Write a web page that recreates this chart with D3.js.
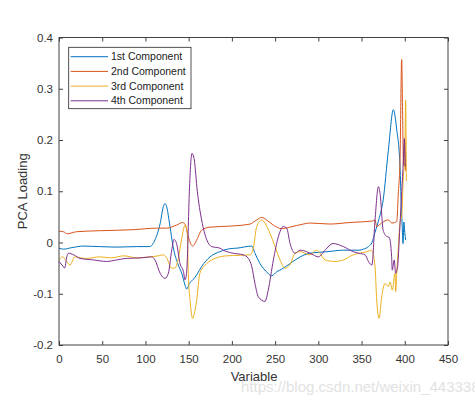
<!DOCTYPE html>
<html lang="en">
<head>
    <meta charset="UTF-8">
    <meta name="viewport" content="width=device-width, initial-scale=1.0">
    <script src="https://d3js.org/d3.v7.min.js"></script>
    <title>PCA Loading</title>
    <style>
        html,
        body {
            margin: 0px;
            padding: 0px;
            background-color: #ffffff;
            font-family: "Liberation Sans", Arial, sans-serif;
        }
    </style>
</head>
<body>
    <div id="chart"></div>
    <script>

        // loadings: [variable, loading]
        let comp1 = [
            [0, -0.011], [5, -0.013], [15, -0.010], [28, -0.007], [47, -0.008], [67, -0.009],
            [90, -0.008], [105, -0.008], [111, 0.005], [117, 0.037], [120.7, 0.070], [122.6, 0.076],
            [124.5, 0.070], [128.4, 0.031], [132, -0.008], [138, -0.044], [142, -0.060], [145.8, -0.083],
            [147.7, -0.091], [150.8, -0.080], [155.4, -0.072], [159.3, -0.063], [165, -0.047],
            [174.7, -0.028], [186, -0.018], [198, -0.012], [206, -0.011], [223, -0.007], [226.7, -0.021],
            [232.5, -0.041], [240, -0.057], [246, -0.065], [252, -0.057], [257.6, -0.052], [267.3, -0.041],
            [279, -0.028], [290, -0.021], [310, -0.018], [329, -0.015], [347, -0.015], [352, -0.013],
            [358, -0.008], [362, 0.000], [365.6, 0.020], [370, 0.045], [375, 0.083], [381, 0.180],
            [386.8, 0.259], [390.7, 0.220], [394.5, 0.148], [396, 0.070], [396.8, 0.040], [398, -0.002],
            [399, 0.040], [400, 0.020], [401, 0.005]
        ];
        let comp2 = [
            [0, 0.022], [5, 0.021], [10, 0.017], [13, 0.018], [20, 0.021], [47, 0.023], [86, 0.025],
            [113, 0.028], [124.5, 0.028], [136, 0.034], [143, 0.039], [146, 0.035], [149.6, 0.011],
            [154.6, -0.007], [159.3, 0.005], [165, 0.024], [174.7, 0.030], [198, 0.032], [221, 0.036],
            [228.7, 0.044], [234.5, 0.049], [240, 0.044], [248, 0.034], [257.6, 0.027], [267, 0.030],
            [282.6, 0.036], [290, 0.038], [313.5, 0.036], [336.6, 0.039], [347, 0.040], [363, 0.042],
            [365.6, 0.044], [367.5, 0.031], [373, 0.038], [381, 0.044], [385, 0.038], [390.7, 0.041],
            [392.5, 0.096], [394.5, 0.160], [396.4, 0.357], [397.5, 0.250], [398.5, 0.150],
            [400, 0.200], [401, 0.140]
        ];
        let comp3 = [
            [0, -0.034], [4, -0.028], [8, -0.035], [12.7, -0.044], [18.5, -0.028], [25, -0.030],
            [31.7, -0.031], [47, -0.028], [60, -0.030], [75, -0.026], [90, -0.030], [105, -0.028],
            [115, -0.026], [120.7, -0.024], [124.5, -0.030], [130.4, -0.050], [134, -0.050], [138, -0.031],
            [142, 0.008], [145.8, 0.034], [148.4, 0.018], [149.6, -0.060], [152, -0.120], [154.6, -0.148],
            [157, -0.135], [159.3, -0.112], [163, -0.060], [171, -0.041], [180.5, -0.031], [194, -0.026],
            [210, -0.025], [221, -0.024], [224.8, -0.011], [228.7, 0.031], [234.5, 0.044], [238.3, 0.038],
            [244, 0.018], [250, -0.008], [255.7, -0.034], [261.5, -0.050], [267, -0.044], [273, -0.021],
            [279, -0.018], [290, -0.024], [298, -0.015], [302, -0.021], [307.7, -0.034], [319, -0.037],
            [329, -0.034], [340.5, -0.024], [347.5, -0.021], [356, -0.018], [361.7, -0.015],
            [365.6, -0.047], [367.5, -0.112], [370.3, -0.148], [373, -0.110], [377, -0.080],
            [381, -0.086], [383, -0.077], [385.6, -0.093], [388.7, -0.060], [389.5, -0.096],
            [390.7, -0.060], [392.5, -0.010], [394.5, 0.040], [396.4, 0.050], [398.4, 0.130],
            [400, 0.160], [401, 0.278], [401.8, 0.120]
        ];
        let comp4 = [
            [0, -0.037], [5, -0.047], [6.5, -0.050], [9, -0.028], [10.8, -0.021], [17, -0.024],
            [24.3, -0.031], [40, -0.034], [55, -0.037], [66.7, -0.034], [78, -0.031], [95, -0.030],
            [107, -0.028], [111, -0.034], [117, -0.060], [122.6, -0.070], [126.5, -0.060], [130.4, -0.015],
            [133, 0.006], [136, -0.002], [140, -0.041], [144, -0.057], [145.8, -0.073], [147.5, -0.060],
            [148.4, -0.034], [150.8, 0.100], [153.9, 0.174], [156.5, 0.161], [160, 0.100], [165, 0.044],
            [171, 0.005], [176.6, -0.008], [186, -0.011], [190, -0.015], [201.6, -0.021], [213, -0.024],
            [219, -0.031], [223, -0.047], [226.7, -0.080], [230.6, -0.106], [238.3, -0.115], [242, -0.093],
            [248, -0.034], [253.7, 0.011], [259.5, 0.031], [263.4, 0.028], [267.3, -0.002], [273, -0.021],
            [278.8, -0.015], [286.6, -0.018], [294, -0.024], [300, -0.028], [307.7, -0.015], [317, -0.002],
            [329, -0.008], [340.5, -0.018], [347, -0.021], [354, -0.024], [358, -0.037], [362, -0.044],
            [365.6, 0.044], [369.5, 0.109], [371.4, 0.096], [375, 0.024], [379, 0.012], [382, 0.010],
            [384.8, -0.028], [385.5, -0.054], [387.8, -0.034], [389.4, -0.060], [391.7, -0.047],
            [394, 0.020], [396.5, 0.100], [398.4, 0.160], [399.5, 0.203], [400.5, 0.150], [401, 0.148]
        ];

        let seriesNames = ['1st Component', '2nd Component', '3rd Component', '4th Component'];
        let seriesColors = ['#0072BD', '#D95319', '#EDB120', '#7E2F8E'];
        let xTicks = [0, 50, 100, 150, 200, 250, 300, 350, 400, 450];
        let yTicks = [-0.2, -0.1, 0, 0.1, 0.2, 0.3, 0.4];
        let yTickLabels = ['-0.2', '-0.1', '0', '0.1', '0.2', '0.3', '0.4'];

        let width = 475;
        let height = 395;
        let box = {left: 59, right: 448, top: 37.5, bottom: 345};
        let axisColor = '#404040';

        let svg = d3.select('#chart').append('svg')
            .attr('width', width)
            .attr('height', height);

        let x = d3.scaleLinear().domain([0, 450]).range([box.left, box.right]);
        let y = d3.scaleLinear().domain([-0.2, 0.4]).range([box.bottom, box.top]);

        // csdn watermark sits under everything
        svg.append('text')
            .attr('x', 241)
            .attr('y', 392)
            .attr('font-size', '15px')
            .attr('fill', '#e2e2e2')
            .text('https://blog.csdn.net/weixin_4433388');

        let line = d3.line()
            .x(d => x(d[0]))
            .y(d => y(d[1]))
            .curve(d3.curveMonotoneX);

        [comp1, comp2, comp3, comp4].forEach((data, i) => {
            svg.append('path')
                .datum(data)
                .attr('d', line)
                .attr('fill', 'none')
                .attr('stroke', seriesColors[i])
                .attr('stroke-width', 1);
        });

        function styleAxis(g) {
            g.select('.domain').remove();
            g.selectAll('.tick line').attr('stroke', axisColor);
            g.selectAll('.tick text')
                .attr('fill', '#333')
                .attr('font-size', '11.5px')
                .attr('font-family', '"Liberation Sans", Arial, sans-serif');
        }

        svg.append('g')
            .attr('transform', `translate(0,${box.bottom})`)
            .call(d3.axisBottom(x).tickValues(xTicks).tickSize(-4).tickPadding(10))
            .call(styleAxis);
        svg.append('g')
            .attr('transform', `translate(0,${box.top})`)
            .call(d3.axisTop(x).tickValues(xTicks).tickSize(-4).tickFormat(''))
            .call(styleAxis);
        svg.append('g')
            .attr('transform', `translate(${box.left},0)`)
            .call(d3.axisLeft(y).tickValues(yTicks).tickSize(-4).tickPadding(6)
                .tickFormat((d, i) => yTickLabels[i]))
            .call(styleAxis);
        svg.append('g')
            .attr('transform', `translate(${box.right},0)`)
            .call(d3.axisRight(y).tickValues(yTicks).tickSize(-4).tickFormat(''))
            .call(styleAxis);

        svg.append('rect')
            .attr('x', box.left)
            .attr('y', box.top)
            .attr('width', box.right - box.left)
            .attr('height', box.bottom - box.top)
            .attr('fill', 'none')
            .attr('stroke', axisColor)
            .attr('stroke-width', 1);

        svg.append('text')
            .attr('x', (box.left + box.right) / 2 + 0.5)
            .attr('y', 380.5)
            .attr('text-anchor', 'middle')
            .attr('font-size', '13px')
            .attr('fill', '#333')
            .text('Variable');

        svg.append('text')
            .attr('transform', `translate(26.5,${(box.top + box.bottom) / 2}) rotate(-90)`)
            .attr('text-anchor', 'middle')
            .attr('font-size', '13px')
            .attr('fill', '#333')
            .text('PCA Loading');

        // legend
        let legend = svg.append('g');
        legend.append('rect')
            .attr('x', 68.7)
            .attr('y', 47.3)
            .attr('width', 122.3)
            .attr('height', 61.4)
            .attr('fill', '#ffffff')
            .attr('stroke', '#262626')
            .attr('stroke-width', 0.8);

        let entries = legend.selectAll('g.entry')
            .data(seriesNames)
            .join('g')
            .attr('class', 'entry')
            .attr('transform', (d, i) => `translate(0,${56.7 + i * 14.7})`);
        entries.append('line')
            .attr('x1', 70.7)
            .attr('x2', 108)
            .attr('stroke', (d, i) => seriesColors[i])
            .attr('stroke-width', 1);
        entries.append('text')
            .attr('x', 111)
            .attr('dy', '0.35em')
            .attr('font-size', '10.5px')
            .attr('fill', '#222')
            .text(d => d);

    </script>
</body>
</html>
